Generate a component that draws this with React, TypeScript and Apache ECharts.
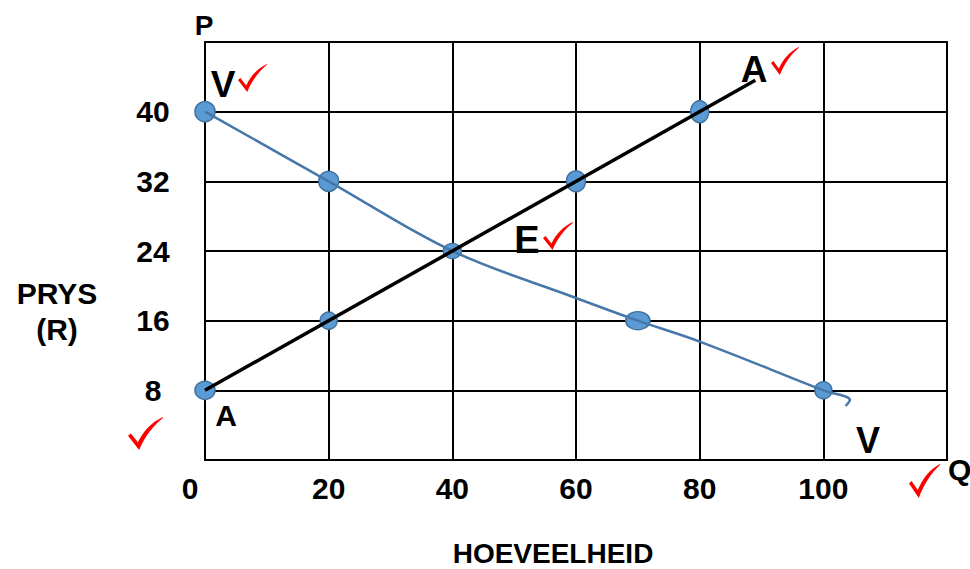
import React, { useEffect, useRef } from "react";
import * as echarts from "echarts";

// ---- data ----
const xTicks = [0, 20, 40, 60, 80, 100, 120];
const yTicks = [0, 8, 16, 24, 32, 40, 48];
const demandCurve: [number, number][] = [
  [0, 40], [20, 32], [40, 24], [60, 18.6], [70, 16], [80, 13.6], [100, 8], [104.3, 6.9], [103.6, 6.2],
];
const supplyLine: [number, number][] = [[0, 8], [89, 43.6]];
const demandPoints: [number, number][] = [[0, 40], [20, 32], [40, 24], [70, 16], [100, 8]];
const supplyPoints: [number, number][] = [[0, 8], [20, 16], [60, 32], [80, 40]];
const xAxisTitle = "HOEVEELHEID";
const yAxisTitle = ["PRYS", "(R)"];

// ---- styles (not data) ----
const demandMarkerSizes = [[20, 20], [20, 20], [18, 15], [24, 18], [17, 17]];
const supplyMarkerSizes = [[20, 18], [17, 17], [19, 21], [18, 22]];
const FONT = '"Liberation Sans", Arial, Helvetica, sans-serif';

const TICK_PATH =
  "M0,16 L2.5,14 L8.5,21.5 C13,12 20,4.5 30,0 L30,0.8 C22,7 15,15.5 9.5,28 Z";
let registered = false;
function ensureShape() {
  if (registered) return;
  echarts.graphic.registerShape("tick", echarts.graphic.extendPath(TICK_PATH, {}) as any);
  registered = true;
}

function tick(x: number, y: number, w: number, h: number) {
  return {
    type: "tick",
    x,
    y,
    scaleX: w / 30,
    scaleY: h / 28,
    style: { fill: "#ff0000" },
    z: 10,
  };
}

function label(text: string, x: number, y: number, size: number, align = "center") {
  return {
    type: "text",
    x,
    y,
    z: 10,
    style: {
      text,
      font: `bold ${size}px ${FONT}`,
      fill: "#000",
      textAlign: align,
      textVerticalAlign: "middle",
    },
  };
}

export default function App() {
  const ref = useRef<HTMLDivElement>(null);
  useEffect(() => {
    if (!ref.current) return;
    ensureShape();
    const chart = echarts.init(ref.current, undefined, { renderer: "svg" });
    const option: any = {
      animation: false,
      backgroundColor: "#ffffff",
      grid: {
        left: 205,
        top: 42,
        width: 742,
        height: 418,
        show: true,
        borderColor: "#000",
        borderWidth: 2,
        backgroundColor: "transparent",
      },
      xAxis: {
        type: "value",
        min: xTicks[0],
        max: xTicks[xTicks.length - 1],
        interval: xTicks[1] - xTicks[0],
        axisLine: { show: true, lineStyle: { color: "#000", width: 2 } },
        axisTick: { show: false },
        splitLine: { show: true, lineStyle: { color: "#000", width: 2 } },
        axisLabel: {
          margin: 13,
          color: "#000",
          fontSize: 30,
          fontWeight: "bold",
          fontFamily: FONT,
          formatter: (v: number) =>
            v === xTicks[xTicks.length - 1] ? "" : v === 0 ? "{z|0}" : String(v),
          rich: {
            z: {
              fontSize: 30,
              fontWeight: "bold",
              fontFamily: FONT,
              color: "#000",
              padding: [0, 30, 0, 0],
            },
          },
        },
      },
      yAxis: {
        type: "value",
        min: yTicks[0],
        max: yTicks[yTicks.length - 1],
        interval: yTicks[1] - yTicks[0],
        axisLine: { show: true, lineStyle: { color: "#000", width: 2 } },
        axisTick: { show: false },
        splitLine: { show: true, lineStyle: { color: "#000", width: 2 } },
        axisLabel: {
          margin: 52,
          align: "center",
          color: "#000",
          fontSize: 30,
          fontWeight: "bold",
          fontFamily: FONT,
          formatter: (v: number) =>
            v === yTicks[0] || v === yTicks[yTicks.length - 1] ? "" : String(v),
        },
      },
      series: [
        {
          type: "scatter",
          data: demandPoints.map((p, i) => ({ value: p, symbolSize: demandMarkerSizes[i] })),
          itemStyle: { color: "#5b9bd5", borderColor: "#41719c", borderWidth: 1.5, opacity: 1 },
          z: 2,
          silent: true,
        },
        {
          type: "scatter",
          data: supplyPoints.map((p, i) => ({ value: p, symbolSize: supplyMarkerSizes[i] })),
          itemStyle: { color: "#5b9bd5", borderColor: "#41719c", borderWidth: 1.5, opacity: 1 },
          z: 2,
          silent: true,
        },
        {
          type: "line",
          data: demandCurve,
          smooth: 0.35,
          showSymbol: false,
          symbol: "none",
          lineStyle: { color: "#4677a8", width: 2.5 },
          z: 3,
          silent: true,
        },
        {
          type: "line",
          data: supplyLine,
          showSymbol: false,
          symbol: "none",
          lineStyle: { color: "#000", width: 3.5 },
          z: 4,
          silent: true,
        },
      ],
      graphic: [
        label("P", 204, 25, 28),
        label("V", 223, 84, 37),
        tick(238, 64, 29, 28),
        label("A", 754, 69, 37),
        tick(771, 47, 28, 28),
        label("E", 527, 240, 38),
        tick(543, 222, 30, 28),
        label("A", 226, 415, 30),
        tick(128, 417, 35, 33),
        label("V", 868, 440, 36),
        label("Q", 948, 469, 30, "left"),
        tick(909, 464, 31, 34),
        label(yAxisTitle[0], 57, 293, 30),
        label(yAxisTitle[1], 57, 329, 30),
        label(xAxisTitle, 553, 553, 28),
      ],
    };
    chart.setOption(option);
    return () => chart.dispose();
  }, []);
  return (
    <div
      ref={ref}
      style={{ position: "fixed", left: 0, top: 0, width: 970, height: 569, background: "#fff" }}
    />
  );
}
